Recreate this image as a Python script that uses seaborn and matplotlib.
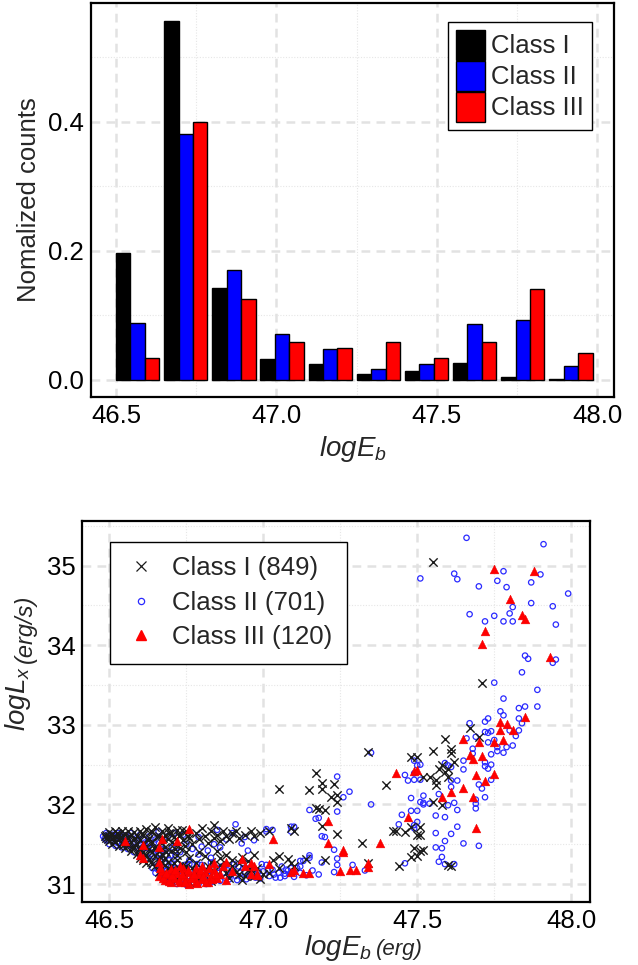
import matplotlib
matplotlib.use("Agg")
import matplotlib.pyplot as plt
from matplotlib.lines import Line2D
from matplotlib.patches import Patch
from matplotlib.ticker import FixedLocator
import pandas as pd
import seaborn as sns

# ── Data ──────────────────────────────────────────────────────────────────────

CLASSES = ["Class I", "Class II", "Class III"]
COLORS = {"Class I": "black", "Class II": "#0000FF", "Class III": "#FF0000"}

# histogram of logE_b, left edge of each bin and normalised counts per class
bin_lo = [46.50, 46.65, 46.80, 46.95, 47.10, 47.25, 47.40, 47.55, 47.70, 47.85]
BIN_W = 0.15
frac_c1 = [0.197, 0.557, 0.142, 0.0325, 0.0243, 0.0093, 0.0139, 0.0258, 0.0041, 0.0012]
frac_c2 = [0.0877, 0.382, 0.171, 0.072, 0.0475, 0.0175, 0.0243, 0.0867, 0.093, 0.0217]
frac_c3 = [0.0333, 0.400, 0.125, 0.0583, 0.050, 0.0583, 0.0333, 0.0583, 0.1417, 0.0417]

# scatter logE_b vs logL_x
c1_pts = [
    # dense upper arm
    (46.49, 31.58), (46.49, 31.62), (46.50, 31.54), (46.50, 31.60), (46.50, 31.65),
    (46.51, 31.50), (46.51, 31.57), (46.51, 31.63), (46.52, 31.53), (46.52, 31.60),
    (46.52, 31.67), (46.53, 31.48), (46.53, 31.56), (46.53, 31.62), (46.54, 31.51),
    (46.54, 31.59), (46.54, 31.66), (46.55, 31.45), (46.55, 31.55), (46.55, 31.63),
    (46.56, 31.49), (46.56, 31.58), (46.56, 31.67), (46.57, 31.42), (46.57, 31.53),
    (46.57, 31.61), (46.58, 31.46), (46.58, 31.56), (46.58, 31.65), (46.59, 31.38),
    (46.59, 31.50), (46.59, 31.60), (46.60, 31.33), (46.60, 31.44), (46.60, 31.55),
    (46.60, 31.66), (46.61, 31.30), (46.61, 31.40), (46.61, 31.52), (46.61, 31.62),
    (46.62, 31.27), (46.62, 31.36), (46.62, 31.48), (46.62, 31.69), (46.63, 31.32),
    (46.63, 31.44), (46.63, 31.58), (46.64, 31.25), (46.64, 31.40), (46.64, 31.53),
    (46.64, 31.65), (46.65, 31.22), (46.65, 31.35), (46.65, 31.47), (46.65, 31.71),
    (46.66, 31.30), (46.66, 31.42), (46.66, 31.60), (46.67, 31.26), (46.67, 31.38),
    (46.67, 31.52), (46.67, 31.67), (46.68, 31.33), (46.68, 31.46), (46.68, 31.62),
    (46.69, 31.28), (46.69, 31.56), (46.69, 31.70), (46.70, 31.41), (46.70, 31.64),
    (46.71, 31.50), (46.71, 31.59), (46.72, 31.36), (46.72, 31.68), (46.73, 31.45),
    (46.73, 31.61), (46.74, 31.55), (46.75, 31.40), (46.75, 31.66),
    (46.485, 31.60), (46.495, 31.56), (46.505, 31.62), (46.515, 31.55), (46.525, 31.64),
    (46.535, 31.58), (46.545, 31.49), (46.545, 31.62), (46.555, 31.52), (46.565, 31.60),
    (46.575, 31.46), (46.585, 31.58), (46.595, 31.44), (46.605, 31.63), (46.615, 31.36),
    (46.625, 31.55), (46.635, 31.28), (46.635, 31.66), (46.645, 31.45), (46.655, 31.60),
    (46.665, 31.34), (46.675, 31.58), (46.685, 31.40), (46.695, 31.64), (46.705, 31.53),
    (46.715, 31.44), (46.725, 31.60), (46.735, 31.68), (46.745, 31.48), (46.755, 31.60),
    # right part of the upper arm
    (46.76, 31.58), (46.77, 31.50), (46.78, 31.64), (46.79, 31.57), (46.80, 31.70),
    (46.81, 31.60), (46.82, 31.52), (46.83, 31.66), (46.84, 31.74), (46.84, 31.58),
    (46.85, 31.62), (46.86, 31.54), (46.87, 31.66), (46.88, 31.60), (46.89, 31.56),
    (46.90, 31.64), (46.91, 31.67), (46.92, 31.58), (46.94, 31.62), (46.96, 31.66),
    (46.97, 31.60), (46.99, 31.64), (47.02, 31.66), (47.09, 31.70), (47.10, 31.66),
    # between the arms
    (46.72, 31.30), (46.74, 31.24), (46.76, 31.33), (46.78, 31.27), (46.79, 31.40),
    (46.81, 31.35), (46.83, 31.28), (46.85, 31.42), (46.86, 31.33), (46.88, 31.36),
    (46.90, 31.30), (46.92, 31.26), (46.93, 31.34), (46.95, 31.29), (46.97, 31.36),
    # lower arm
    (46.66, 31.15), (46.68, 31.10), (46.70, 31.18), (46.72, 31.06), (46.74, 31.14),
    (46.76, 31.02), (46.77, 31.20), (46.79, 31.08), (46.81, 31.16), (46.83, 31.04),
    (46.85, 31.12), (46.87, 31.20), (46.89, 31.08), (46.91, 31.15), (46.93, 31.05),
    (46.95, 31.18), (46.97, 31.10), (46.99, 31.06), (47.02, 31.14), (47.05, 31.20),
    (47.03, 31.30), (47.05, 31.35), (47.08, 31.32), (47.09, 31.26), (47.10, 31.22),
    (47.14, 31.32), (47.20, 31.30), (46.96, 31.17),
    (46.70, 31.22), (46.68, 31.24), (46.69, 31.20), (46.71, 31.26), (46.73, 31.17),
    (46.75, 31.22), (46.78, 31.14), (46.80, 31.10), (46.82, 31.22), (46.84, 31.16),
    (46.86, 31.24), (46.88, 31.14), (46.90, 31.22), (46.92, 31.12), (46.94, 31.10),
    (46.98, 31.20), (47.00, 31.12),
    # middle
    (47.05, 32.20), (47.17, 32.40), (47.15, 32.18), (47.19, 32.27), (47.19, 32.19),
    (47.23, 32.26), (47.22, 32.09), (47.24, 32.12), (47.24, 32.03), (47.17, 31.95),
    (47.18, 31.94), (47.20, 31.93), (47.19, 31.73), (47.24, 31.63), (47.34, 32.66),
    (47.40, 32.25), (47.48, 32.60), (47.32, 31.51), (47.34, 31.26), (47.42, 31.67),
    (47.43, 31.66), (47.44, 31.22), (47.48, 31.34), (47.49, 31.45), (47.50, 31.35),
    (47.52, 31.43), (47.46, 31.65), (47.48, 31.72), (47.50, 31.62),
    # right
    (47.50, 32.60), (47.55, 32.67), (47.59, 32.82), (47.61, 32.70), (47.61, 32.64),
    (47.62, 32.53), (47.60, 32.45), (47.59, 32.41), (47.54, 32.35), (47.56, 32.31),
    (47.56, 32.24), (47.60, 32.35), (47.55, 32.03), (47.58, 31.99), (47.51, 31.72),
    (47.51, 31.61), (47.51, 31.42), (47.60, 31.24), (47.61, 31.22), (47.67, 32.96),
    (47.70, 32.85), (47.71, 33.53), (47.55, 35.04), (47.52, 32.35), (47.57, 32.45),
    (47.58, 32.50),
]

c2_pts = [
    # upper arm
    (46.48, 31.60), (46.49, 31.55), (46.49, 31.64), (46.50, 31.58), (46.50, 31.50),
    (46.51, 31.62), (46.51, 31.54), (46.52, 31.48), (46.52, 31.58), (46.53, 31.64),
    (46.53, 31.52), (46.54, 31.46), (46.54, 31.57), (46.55, 31.61), (46.55, 31.50),
    (46.56, 31.44), (46.56, 31.55), (46.57, 31.64), (46.57, 31.48), (46.58, 31.40),
    (46.58, 31.52), (46.59, 31.58), (46.59, 31.45), (46.60, 31.36), (46.60, 31.62),
    (46.61, 31.47), (46.61, 31.56), (46.62, 31.40), (46.62, 31.32), (46.63, 31.50),
    (46.63, 31.60), (46.64, 31.35), (46.64, 31.46), (46.65, 31.28), (46.65, 31.56),
    (46.66, 31.38), (46.66, 31.66), (46.67, 31.32), (46.67, 31.48), (46.68, 31.42),
    (46.69, 31.60), (46.70, 31.36), (46.71, 31.64), (46.72, 31.46), (46.73, 31.40),
    (46.74, 31.62), (46.75, 31.50),
    (46.485, 31.57), (46.495, 31.62), (46.505, 31.55), (46.515, 31.60), (46.525, 31.52),
    (46.535, 31.60), (46.545, 31.53), (46.555, 31.58), (46.565, 31.50), (46.575, 31.56),
    (46.585, 31.47), (46.595, 31.54), (46.605, 31.42), (46.615, 31.52), (46.625, 31.45),
    (46.635, 31.38), (46.645, 31.52), (46.655, 31.42), (46.665, 31.30), (46.675, 31.44),
    (46.685, 31.36), (46.695, 31.30), (46.705, 31.46), (46.715, 31.36),
    # between the arms
    (46.77, 31.44), (46.79, 31.59), (46.80, 31.47), (46.82, 31.42), (46.84, 31.50),
    (46.86, 31.46), (46.88, 31.56), (46.90, 31.64), (46.91, 31.75), (46.93, 31.51),
    (46.94, 31.59), (46.95, 31.42), (46.97, 31.55), (47.01, 31.66), (47.03, 31.68),
    (47.09, 31.72), (46.85, 31.68), (46.79, 31.37), (46.76, 31.30), (46.83, 31.33),
    # lower arm
    (46.64, 31.20), (46.65, 31.14), (46.66, 31.24), (46.67, 31.08), (46.67, 31.18),
    (46.68, 31.26), (46.69, 31.12), (46.70, 31.04), (46.70, 31.22), (46.71, 31.15),
    (46.72, 31.00), (46.72, 31.26), (46.73, 31.10), (46.74, 31.20), (46.75, 30.99),
    (46.75, 31.14), (46.76, 31.25), (46.77, 31.06), (46.78, 31.18), (46.79, 31.00),
    (46.79, 31.12), (46.80, 31.24), (46.81, 31.06), (46.82, 31.16), (46.83, 31.02),
    (46.83, 31.27), (46.84, 31.10), (46.85, 31.20), (46.86, 31.04), (46.87, 31.14),
    (46.88, 31.24), (46.89, 31.06), (46.90, 31.17), (46.91, 31.10), (46.92, 31.22),
    (46.93, 31.07), (46.94, 31.15), (46.95, 31.26), (46.96, 31.09), (46.97, 31.19),
    (46.98, 31.12), (46.99, 31.07), (47.00, 31.16), (47.01, 31.24), (47.02, 31.10),
    (47.03, 31.18), (47.04, 31.08), (47.05, 31.14), (47.06, 31.22), (47.07, 31.10),
    (47.08, 31.17), (47.09, 31.13), (47.10, 31.09), (47.11, 31.20), (47.12, 31.14),
    (47.13, 31.29), (47.14, 31.11), (47.16, 31.17), (47.18, 31.12), (47.19, 31.27),
    (47.15, 31.36), (47.15, 31.33), (47.12, 31.29), (47.12, 31.22), (47.09, 31.20),
    (47.07, 31.13),
    (46.655, 31.19), (46.665, 31.12), (46.675, 31.22), (46.685, 31.16), (46.695, 31.08),
    (46.705, 31.26), (46.715, 31.03), (46.725, 31.18), (46.735, 31.06), (46.745, 31.24),
    (46.755, 31.10), (46.765, 31.18), (46.775, 31.01), (46.785, 31.25), (46.795, 31.08),
    (46.805, 31.18), (46.815, 31.00), (46.825, 31.10), (46.835, 31.20), (46.845, 31.05),
    (46.855, 31.14), (46.865, 31.22), (46.875, 31.08), (46.885, 31.17), (46.895, 31.12),
    (46.905, 31.25), (46.915, 31.05), (46.925, 31.14), (46.935, 31.20), (46.945, 31.06),
    (46.955, 31.12), (46.965, 31.22), (46.975, 31.08), (46.985, 31.16), (46.995, 31.25),
    (47.015, 31.17), (47.035, 31.12), (47.055, 31.08), (47.075, 31.18),
    # middle
    (47.24, 32.35), (47.28, 32.16), (47.26, 32.09), (47.24, 31.91), (47.15, 31.93),
    (47.17, 31.82), (47.19, 31.60), (47.23, 31.43), (47.24, 31.32), (47.24, 31.24),
    (47.23, 31.15), (47.29, 31.24), (47.33, 31.17), (47.35, 32.65), (47.35, 32.00),
    (47.01, 31.69), (47.09, 31.66), (47.10, 31.72), (47.20, 31.59), (47.18, 31.83),
    (47.46, 31.26), (47.46, 32.37), (47.47, 32.30), (47.49, 32.39), (47.49, 32.31),
    (47.49, 32.55), (47.50, 32.49), (47.48, 32.08), (47.51, 32.03), (47.52, 32.00),
    (47.48, 31.92), (47.45, 31.87), (47.44, 31.75), (47.49, 31.74), (47.49, 31.70),
    (47.50, 31.92), (47.50, 31.78),
    # right
    (47.85, 33.87), (47.86, 33.83), (47.95, 33.82), (47.94, 33.78), (47.84, 33.66),
    (47.75, 33.53), (47.89, 33.44), (47.89, 33.23), (47.78, 33.33), (47.83, 33.21),
    (47.85, 33.23), (47.77, 33.17), (47.78, 33.12), (47.73, 33.08), (47.72, 33.04),
    (47.67, 33.02), (47.83, 33.08), (47.84, 33.02), (47.73, 32.90), (47.72, 32.91),
    (47.74, 32.92), (47.83, 32.93), (47.82, 32.86), (47.80, 32.93), (47.81, 32.74),
    (47.79, 32.72), (47.78, 32.65), (47.76, 32.72), (47.76, 32.67), (47.74, 32.63),
    (47.73, 32.78), (47.75, 32.81), (47.69, 32.85), (47.66, 32.83), (47.68, 32.70),
    (47.68, 32.64), (47.65, 32.55), (47.72, 32.53), (47.72, 32.48), (47.74, 32.50),
    (47.73, 32.45), (47.65, 32.44), (47.63, 32.30), (47.61, 32.22), (47.70, 32.25),
    (47.71, 32.20), (47.74, 32.31), (47.72, 32.09), (47.69, 32.06), (47.69, 32.01),
    (47.69, 31.95), (47.63, 31.93), (47.62, 32.02), (47.60, 31.99), (47.59, 31.84),
    (47.56, 31.86), (47.54, 32.01), (47.52, 32.02), (47.52, 32.11), (47.57, 32.13),
    (47.60, 32.49), (47.59, 32.52), (47.61, 32.47), (47.61, 32.30), (47.51, 32.50),
    (47.51, 32.31), (47.63, 31.72), (47.61, 31.63), (47.56, 31.64), (47.59, 31.54),
    (47.65, 31.51), (47.70, 31.48), (47.56, 31.46), (47.58, 31.45), (47.58, 31.34),
    (47.57, 31.28), (47.59, 31.25), (47.62, 31.25),
    # top right
    (47.66, 35.35), (47.91, 35.27), (47.51, 34.84), (47.62, 34.90), (47.63, 34.83),
    (47.70, 34.74), (47.78, 34.93), (47.90, 34.89), (47.76, 34.81), (47.79, 34.73),
    (47.87, 34.79), (47.99, 34.65), (47.81, 34.48), (47.87, 34.53), (47.94, 34.49),
    (47.67, 34.39), (47.72, 34.30), (47.75, 34.37), (47.80, 34.40), (47.78, 34.30),
    (47.81, 34.30), (47.95, 34.26),
]

c3_pts = [
    # upper arm
    (46.55, 31.54), (46.61, 31.49), (46.60, 31.36), (46.61, 31.33), (46.66, 31.47),
    (46.66, 31.28), (46.67, 31.56), (46.72, 31.54), (46.76, 31.69),
    # lower arm
    (46.66, 31.10), (46.67, 31.16), (46.68, 31.05), (46.69, 31.12), (46.70, 31.02),
    (46.70, 31.19), (46.71, 31.08), (46.72, 31.14), (46.73, 31.03), (46.74, 31.10),
    (46.74, 31.20), (46.75, 31.06), (46.76, 31.00), (46.76, 31.15), (46.77, 31.09),
    (46.78, 31.04), (46.78, 31.20), (46.79, 31.12), (46.80, 31.06), (46.81, 31.15),
    (46.82, 31.03), (46.83, 31.10), (46.84, 31.18), (46.85, 31.08), (46.86, 31.13),
    (46.87, 31.22), (46.88, 31.05), (46.88, 31.28), (46.90, 31.16), (46.93, 31.32),
    (46.94, 31.22), (46.97, 31.23), (46.98, 31.12), (47.02, 31.25), (46.80, 31.22),
    (46.84, 31.26), (46.73, 31.22),
    (46.665, 31.20), (46.675, 31.08), (46.685, 31.14), (46.695, 31.04), (46.705, 31.11),
    (46.715, 31.18), (46.725, 31.05), (46.735, 31.13), (46.745, 31.02), (46.755, 31.17),
    (46.765, 31.07), (46.775, 31.13), (46.785, 31.01), (46.795, 31.17), (46.805, 31.10),
    (46.815, 31.03), (46.825, 31.20), (46.835, 31.06), (46.845, 31.12),
    # middle
    (46.96, 31.26), (46.98, 31.11), (46.96, 31.13), (47.03, 31.57), (47.09, 31.15),
    (47.13, 31.14), (47.15, 31.14), (47.21, 31.79), (47.21, 31.52), (47.26, 31.43),
    (47.26, 31.40), (47.38, 31.52), (47.25, 31.16), (47.28, 31.17), (47.30, 31.18),
    (47.34, 31.26), (47.34, 31.21), (47.43, 32.40), (47.49, 32.42), (47.47, 31.84),
    (47.10, 31.18),
    # right
    (47.71, 34.02), (47.93, 33.85), (47.85, 33.10), (47.77, 33.03), (47.79, 33.01),
    (47.81, 32.94), (47.77, 32.93), (47.78, 32.81), (47.75, 32.79), (47.70, 32.79),
    (47.65, 32.82), (47.67, 32.62), (47.68, 32.57), (47.71, 32.61), (47.69, 32.37),
    (47.75, 32.38), (47.72, 32.30), (47.65, 32.21), (47.61, 32.16), (47.58, 32.09),
    (47.68, 32.09), (47.69, 31.70), (47.50, 32.43),
    # top right
    (47.75, 34.96), (47.88, 34.93), (47.80, 34.58), (47.84, 34.38), (47.85, 34.33),
    (47.72, 34.18),
]
legend_counts = {"Class I": 849, "Class II": 701, "Class III": 120}

# ── Style ─────────────────────────────────────────────────────────────────────

sns.set_theme(style="white")
plt.rcParams["font.family"] = ["Liberation Sans", "DejaVu Sans"]
plt.rcParams["mathtext.fontset"] = "custom"
plt.rcParams["mathtext.rm"] = "Liberation Sans"
plt.rcParams["mathtext.it"] = "Liberation Sans:italic"

MAJ_GRID = dict(color="#E2E2E2", linestyle=(0, (3.5, 2.5)), linewidth=1.8)
MIN_GRID = dict(color="#E6E6E6", linestyle=(0, (1, 1.5)), linewidth=0.8)
FS = 18.5


def style_axes(ax, xminor, yminor):
    ax.xaxis.set_minor_locator(FixedLocator(xminor))
    ax.yaxis.set_minor_locator(FixedLocator(yminor))
    ax.grid(which="major", **MAJ_GRID)
    ax.grid(which="minor", **MIN_GRID)
    ax.set_axisbelow(True)
    ax.tick_params(which="major", direction="in", length=10, width=1.0,
                   color="#555555", labelsize=FS, labelcolor="black", pad=5)
    ax.tick_params(which="minor", length=0)
    for sp in ax.spines.values():
        sp.set_visible(True)
        sp.set_color("black")
        sp.set_linewidth(1.6)


fig = plt.figure(figsize=(6.38, 9.65), dpi=100)
ax1 = fig.add_axes([0.1426, 0.5886, 0.8198, 0.4083])
ax2 = fig.add_axes([0.1293, 0.0653, 0.7955, 0.3951])

# ── Top: histogram ────────────────────────────────────────────────────────────

hist_rows = []
for cls, fracs in zip(CLASSES, [frac_c1, frac_c2, frac_c3]):
    for lo, f in zip(bin_lo, fracs):
        hist_rows.append({"logE": lo + 0.45 * BIN_W, "frac": f, "cls": cls})
df_hist = pd.DataFrame(hist_rows)

sns.barplot(data=df_hist, x="logE", y="frac", hue="cls", hue_order=CLASSES,
            palette=COLORS, native_scale=True, width=0.9, dodge=True,
            saturation=1, errorbar=None, edgecolor="black", linewidth=1.0,
            legend=False, ax=ax1)

ax1.set_xlim(46.422, 48.052)
ax1.set_ylim(-0.0264, 0.5845)
ax1.set_xticks([46.5, 47.0, 47.5, 48.0])
ax1.set_xticklabels(["46.5", "47.0", "47.5", "48.0"])
ax1.set_yticks([0.0, 0.2, 0.4])
ax1.set_yticklabels(["0.0", "0.2", "0.4"])
style_axes(ax1, [46.75, 47.25, 47.75], [0.1, 0.3, 0.5])
ax1.set_xlabel(r"$logE_b$", fontsize=20, labelpad=4)
ax1.set_ylabel("Nomalized counts", fontsize=FS, labelpad=5)

bar_handles = [Patch(facecolor=COLORS[c], edgecolor="black", linewidth=1.0, label=c)
               for c in CLASSES]
ax1.legend(handles=bar_handles, loc="upper right", bbox_to_anchor=(0.958, 0.952),
           borderaxespad=0, fontsize=FS, frameon=True, fancybox=False,
           edgecolor="black", framealpha=1, handlelength=1.13, handleheight=1.45,
           handletextpad=0.26, labelspacing=0.02, borderpad=0.3)
ax1.get_legend().get_frame().set_linewidth(1.0)

# ── Bottom: scatter ───────────────────────────────────────────────────────────

df1 = pd.DataFrame(c1_pts, columns=["logE", "logL"])
df2 = pd.DataFrame(c2_pts, columns=["logE", "logL"])
df3 = pd.DataFrame(c3_pts, columns=["logE", "logL"])

sns.scatterplot(data=df2, x="logE", y="logL", marker="o", s=15,
                facecolor="none", edgecolor="#2A2AFF", linewidth=0.9,
                ax=ax2, zorder=3)
sns.scatterplot(data=df1, x="logE", y="logL", marker="x", s=36,
                color="#1A1A1A", linewidth=1.0, ax=ax2, zorder=4)
sns.scatterplot(data=df3, x="logE", y="logL", marker="^", s=40,
                color="#FF0000", edgecolor="#EE0000", linewidth=0.3,
                ax=ax2, zorder=5)

ax2.set_xlim(46.413, 48.061)
ax2.set_ylim(30.774, 35.565)
ax2.set_xticks([46.5, 47.0, 47.5, 48.0])
ax2.set_xticklabels(["46.5", "47.0", "47.5", "48.0"])
ax2.set_yticks([31, 32, 33, 34, 35])
style_axes(ax2, [46.75, 47.25, 47.75], [31.5, 32.5, 33.5, 34.5, 35.5])
ax2.set_xlabel("")
ax2.set_ylabel("")

sc_handles = [
    Line2D([], [], linestyle="none", marker="x", markersize=6.5, color="#1A1A1A",
           markeredgewidth=0.9, label=f"Class I ({legend_counts['Class I']})"),
    Line2D([], [], linestyle="none", marker="o", markersize=4.5, markerfacecolor="none",
           markeredgecolor="#2A2AFF", markeredgewidth=0.9,
           label=f"Class II ({legend_counts['Class II']})"),
    Line2D([], [], linestyle="none", marker="^", markersize=7, color="#FF0000",
           label=f"Class III ({legend_counts['Class III']})"),
]
ax2.legend(handles=sc_handles, loc="upper left", bbox_to_anchor=(0.0542, 0.945),
           borderaxespad=0, fontsize=FS, frameon=True, fancybox=False,
           edgecolor="black", framealpha=1, handlelength=1.33, handletextpad=0.54,
           labelspacing=0.42, borderpad=0.55)
ax2.get_legend().get_frame().set_linewidth(1.0)

# composite axis labels of the lower panel
W, H = 638, 965
tx = fig.text(304 / W, 1 - 955 / H, r"$logE_b$", fontsize=20, ha="left", va="baseline")
fig.canvas.draw()
bb = tx.get_window_extent()
fig.text((bb.x1 + 4) / W, 1 - 955 / H, "(erg)", fontsize=16, style="italic",
         ha="left", va="baseline")

ty = fig.text(33 / W, 1 - 731 / H, r"$logL_x$", fontsize=20, rotation=90,
              ha="right", va="bottom")
fig.canvas.draw()
bb = ty.get_window_extent()
fig.text(37 / W, (bb.y1 + 3) / H, "(erg/s)", fontsize=17, style="italic",
         rotation=90, ha="right", va="bottom")

fig.savefig("out.png", dpi=100)
